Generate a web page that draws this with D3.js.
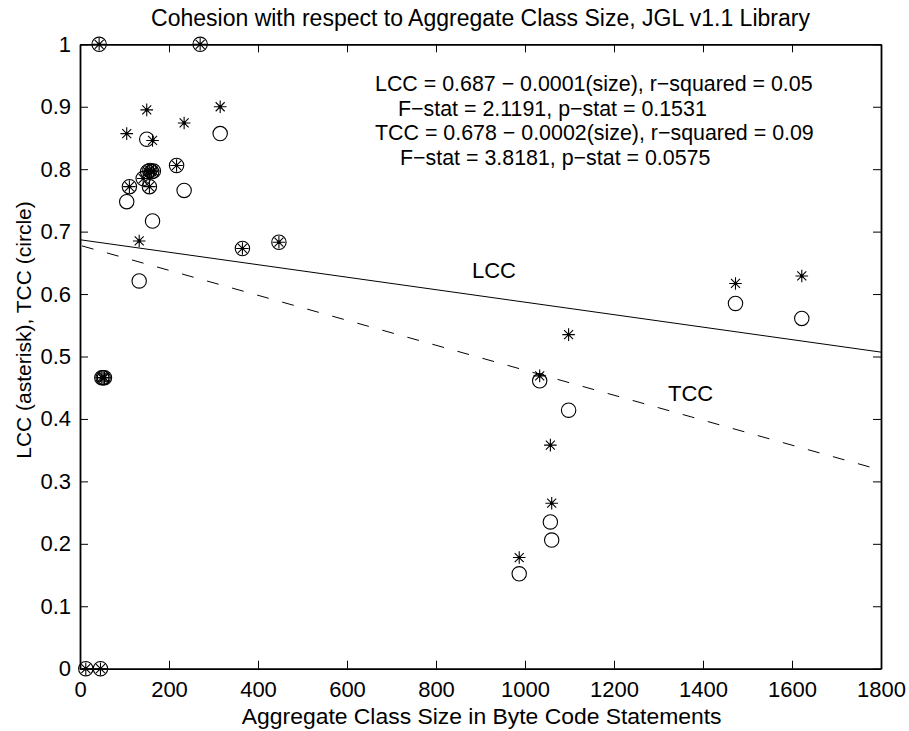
<!DOCTYPE html>
<html>
<head>
  <meta charset="utf-8">
  <title>Cohesion with respect to Aggregate Class Size</title>
  <script src="https://d3js.org/d3.v7.min.js"></script>
  <style>
    body { margin: 0; background: #fff; }
    text { font-family: "Liberation Sans", Arial, Helvetica, sans-serif; fill: #000; }
  </style>
</head>
<body>
  <div id="vis"></div>
  <script>
    // one entry per class: aggregate size, LCC (asterisk), TCC (circle)
    const size = [13, 46, 43, 270, 105, 150, 163, 234, 315, 217, 111, 156, 152, 157, 161, 165, 142,
      133, 365, 447, 49, 52, 55, 987, 1033, 1098, 1057, 1060, 1473, 1622]
    const lcc = [0, 0, 1, 1, 0.857, 0.895, 0.846, 0.874, 0.900, 0.806, 0.772, 0.772, 0.796, 0.798, 0.796, 0.797, 0.785,
      0.685, 0.673, 0.683, 0.466, 0.466, 0.466, 0.178, 0.469, 0.535, 0.358, 0.265, 0.617, 0.629]
    const tcc = [0, 0, 1, 1, 0.748, 0.848, 0.717, 0.766, 0.857, 0.806, 0.772, 0.772, 0.796, 0.798, 0.796, 0.797, 0.785,
      0.621, 0.673, 0.683, 0.466, 0.466, 0.466, 0.152, 0.461, 0.414, 0.235, 0.206, 0.585, 0.561]

    // regression lines, end points at size 0 and 1800
    const lccLine = [[0, 0.687], [1800, 0.507]]
    const tccLine = [[0, 0.678], [1800, 0.318]]

    const xTicks = [0, 200, 400, 600, 800, 1000, 1200, 1400, 1600, 1800]
    const xTickLabels = ["0", "200", "400", "600", "800", "1000", "1200", "1400", "1600", "1800"]
    const yTicks = [0, 0.1, 0.2, 0.3, 0.4, 0.5, 0.6, 0.7, 0.8, 0.9, 1]
    const yTickLabels = ["0", "0.1", "0.2", "0.3", "0.4", "0.5", "0.6", "0.7", "0.8", "0.9", "1"]

    const notes = [
      "LCC = 0.687 \u2212 0.0001(size), r\u2212squared = 0.05",
      "F\u2212stat = 2.1191, p\u2212stat = 0.1531",
      "TCC = 0.678 \u2212 0.0002(size), r\u2212squared = 0.09",
      "F\u2212stat = 3.8181, p\u2212stat = 0.0575"
    ]

    const width = 909
    const height = 731
    const fs = 22

    const x = d3.scaleLinear().domain([0, 1800]).range([80, 881])
    const y = d3.scaleLinear().domain([0, 1]).range([668.7, 44.3])

    const svg = d3.select("#vis")
      .append("svg")
      .attr("width", width)
      .attr("height", height)

    // axes, ticks pointing inward on all four sides
    svg.append("g")
      .attr("transform", `translate(0,${y(0)})`)
      .call(d3.axisBottom(x).tickValues(xTicks).tickSize(-8).tickSizeOuter(0).tickPadding(13)
        .tickFormat((d, i) => xTickLabels[i]))
    svg.append("g")
      .attr("transform", `translate(${x(0)},0)`)
      .call(d3.axisLeft(y).tickValues(yTicks).tickSize(-8).tickSizeOuter(0).tickPadding(9)
        .tickFormat((d, i) => yTickLabels[i]))
    svg.append("g")
      .attr("transform", `translate(0,${y(1)})`)
      .call(d3.axisTop(x).tickValues(xTicks).tickSize(-8).tickSizeOuter(0).tickFormat(""))
    svg.append("g")
      .attr("transform", `translate(${x(1800)},0)`)
      .call(d3.axisRight(y).tickValues(yTicks).tickSize(-8).tickSizeOuter(0).tickFormat(""))

    svg.selectAll(".domain").attr("stroke", "#000").attr("stroke-width", 1.8)
    svg.selectAll(".tick line").attr("stroke", "#000").attr("stroke-width", 1)
    svg.selectAll(".tick text")
      .style("font-size", fs + "px")
      .attr("fill", "#000")

    // regression lines
    const line = d3.line().x(d => x(d[0])).y(d => y(d[1]))
    svg.append("path")
      .attr("d", line(lccLine))
      .attr("fill", "none")
      .attr("stroke", "#000")
      .attr("stroke-width", 1)
    svg.append("path")
      .attr("d", line(tccLine))
      .attr("fill", "none")
      .attr("stroke", "#000")
      .attr("stroke-width", 1)
      .attr("stroke-dasharray", "12,14")
      .attr("stroke-dashoffset", -2)

    // markers
    const pts = size.map((s, i) => ({ s: s, l: lcc[i], t: tcc[i] }))

    svg.append("g")
      .selectAll("circle")
      .data(pts)
      .enter()
      .append("circle")
      .attr("cx", d => x(d.s))
      .attr("cy", d => y(d.t))
      .attr("r", 7.2)
      .attr("fill", "none")
      .attr("stroke", "#000")
      .attr("stroke-width", 1.1)

    const r = 6.3, q = 4.5
    const star = `M${-r},0H${r}M0,${-r}V${r}M${-q},${-q}L${q},${q}M${-q},${q}L${q},${-q}`
    const stars = svg.append("g")
      .selectAll("g")
      .data(pts)
      .enter()
      .append("g")
      .attr("transform", d => `translate(${x(d.s)},${y(d.l)})`)
    stars.append("path")
      .attr("d", star)
      .attr("stroke", "#000")
      .attr("stroke-width", 1.1)
    stars.append("circle")
      .attr("r", 1.7)
      .attr("fill", "#000")

    // line labels
    svg.append("text").attr("x", 472).attr("y", 278).style("font-size", fs + "px").text("LCC")
    svg.append("text").attr("x", 668).attr("y", 401).style("font-size", fs + "px").text("TCC")

    // regression notes
    const noteX = [375, 398, 375, 400]
    const noteY = [90.5, 115.5, 139.5, 164.5]
    svg.append("g")
      .selectAll("text")
      .data(notes)
      .enter()
      .append("text")
      .attr("x", (d, i) => noteX[i])
      .attr("y", (d, i) => noteY[i])
      .style("font-size", "21.4px")
      .text(d => d)

    // titles
    svg.append("text")
      .attr("x", 480.5)
      .attr("y", 26)
      .attr("text-anchor", "middle")
      .style("font-size", "23px")
      .text("Cohesion with respect to Aggregate Class Size, JGL v1.1 Library")

    svg.append("text")
      .attr("x", 481.7)
      .attr("y", 724)
      .attr("text-anchor", "middle")
      .style("font-size", "22.9px")
      .text("Aggregate Class Size in Byte Code Statements")

    svg.append("text")
      .attr("transform", "translate(31,330) rotate(-90)")
      .attr("text-anchor", "middle")
      .style("font-size", "21px")
      .text("LCC (asterisk), TCC (circle)")
  </script>
</body>
</html>
